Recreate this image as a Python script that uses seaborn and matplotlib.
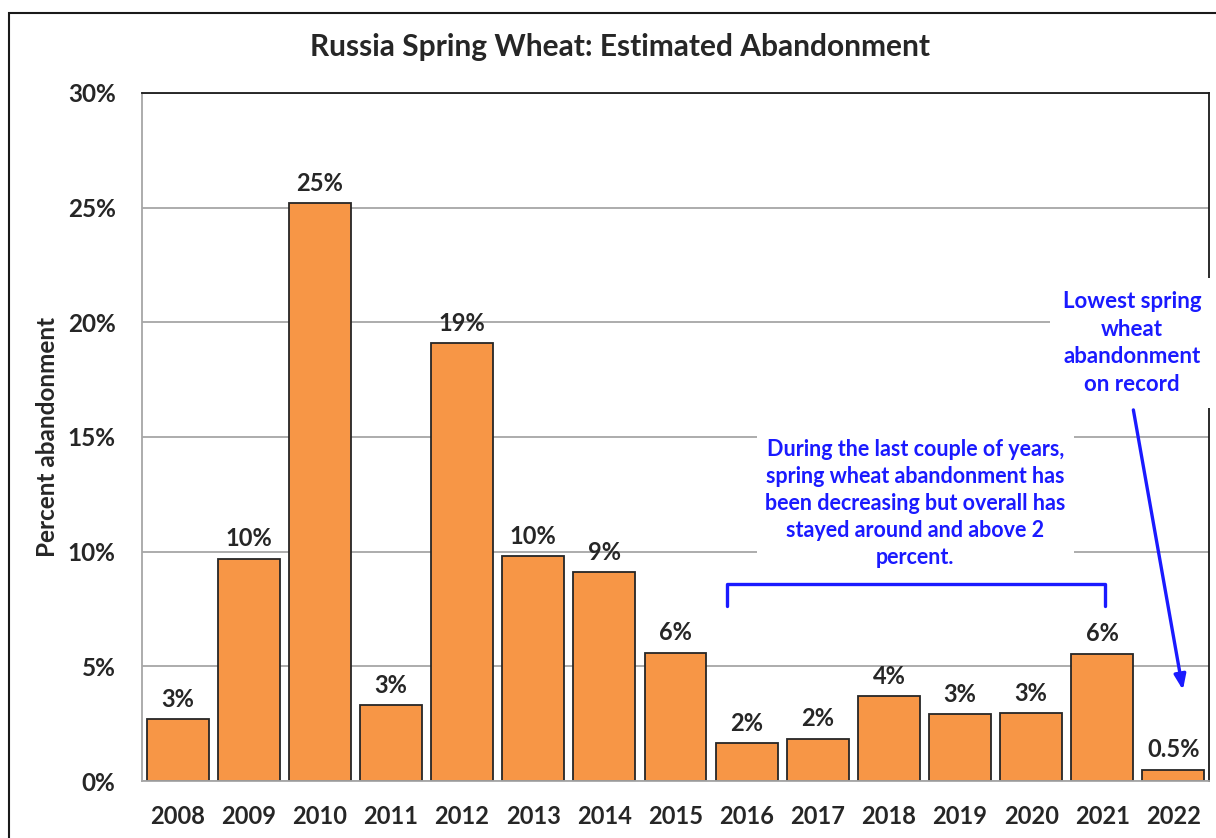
import matplotlib
matplotlib.use("Agg")
import matplotlib.pyplot as plt
from matplotlib.patches import Rectangle
import seaborn as sns
import pandas as pd

years = ["2008", "2009", "2010", "2011", "2012", "2013", "2014", "2015",
         "2016", "2017", "2018", "2019", "2020", "2021", "2022"]
abandonment = [2.7, 9.7, 25.2, 3.3, 19.1, 9.8, 9.1, 5.6,
               1.65, 1.85, 3.7, 2.9, 2.95, 5.55, 0.5]
bar_labels = ["3%", "10%", "25%", "3%", "19%", "10%", "9%", "6%",
              "2%", "2%", "4%", "3%", "3%", "6%", "0.5%"]
y_ticks = [0, 5, 10, 15, 20, 25, 30]

sns.set_style("white")
plt.rcParams["font.family"] = ["Lato", "DejaVu Sans"]
plt.rcParams["font.weight"] = "bold"

df = pd.DataFrame({"year": years, "pct": abandonment})

fig = plt.figure(figsize=(12.16, 8.38), dpi=100)
ax = fig.add_axes([142 / 1216, 1 - 781 / 838, (1209 - 142) / 1216, (781 - 93) / 838])

sns.barplot(data=df, x="year", y="pct", color="#F79646", saturation=1,
            edgecolor="#262626", linewidth=1.3, width=0.87, ax=ax, zorder=2)

ax.set_xlim(-0.5, len(years) - 0.5)
ax.set_ylim(0, 30)
ax.set_yticks(y_ticks)
ax.set_yticklabels([f"{t}%" for t in y_ticks])
ax.yaxis.grid(True, color="#A6A6A6", linewidth=1.3, zorder=0)
ax.set_axisbelow(True)
ax.tick_params(axis="y", length=0, pad=19, labelsize=17.5)
ax.tick_params(axis="x", length=0, pad=17, labelsize=17)
for lab in ax.get_xticklabels() + ax.get_yticklabels():
    lab.set_fontweight("bold")
ax.set_xlabel("")
ax.set_ylabel("Percent abandonment", fontsize=17.5, fontweight="bold", labelpad=6)

for side in ["left", "bottom"]:
    ax.spines[side].set_color("#A6A6A6")
    ax.spines[side].set_linewidth(1.3)
for side in ["top", "right"]:
    ax.spines[side].set_color("#1a1a1a")
    ax.spines[side].set_linewidth(1.3)

ax.bar_label(ax.containers[0], labels=bar_labels, padding=6,
             fontsize=17, fontweight="bold")

fig.text(620 / 1216, 1 - 47 / 838, "Russia Spring Wheat: Estimated Abandonment",
         ha="center", va="center", fontsize=21.5, fontweight="bold")

blue = "#1a1aff"
ax.text(10.37, 12.1,
        "During the last couple of years,\nspring wheat abandonment has\n"
        "been decreasing but overall has\nstayed around and above 2\npercent.",
        ha="center", va="center", color=blue, fontsize=15.5, fontweight="bold",
        linespacing=1.36, zorder=5,
        bbox=dict(facecolor="white", edgecolor="none", pad=6))

ax.text(13.42, 19.1, "Lowest spring\nwheat\nabandonment\non record",
        ha="center", va="center", color=blue, fontsize=16, fontweight="bold",
        linespacing=1.4, zorder=5, clip_on=False,
        bbox=dict(facecolor="white", edgecolor="none", pad=9))

ax.annotate("", xy=(14.14, 3.85), xytext=(13.43, 16.3),
            arrowprops=dict(arrowstyle="-|>,head_length=0.9,head_width=0.35",
                            color=blue, lw=2.4), zorder=6)

# bracket over 2016-2021
ax.plot([7.72, 7.72, 13.04, 13.04], [7.61, 8.61, 8.61, 7.61],
        color=blue, lw=2.4, solid_joinstyle="round", zorder=6)

fig.patches.append(Rectangle((9 / 1216, -0.02), 1.1, 1 - 13 / 838 + 0.02,
                             transform=fig.transFigure, fill=False,
                             edgecolor="#1a1a1a", linewidth=1.5))

fig.savefig("out.png", dpi=100)
